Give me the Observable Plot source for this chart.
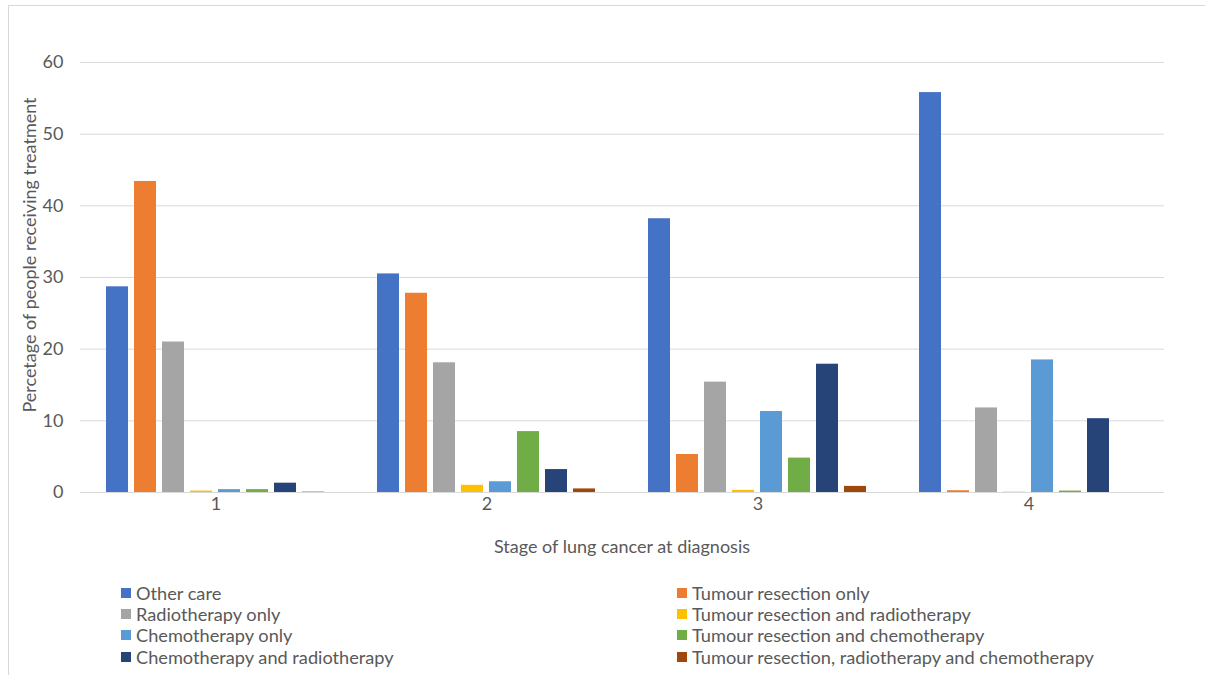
<!DOCTYPE html>
<html>
<head>
<meta charset="utf-8">
<script src="https://cdn.jsdelivr.net/npm/d3@7"></script>
<script src="https://cdn.jsdelivr.net/npm/@observablehq/plot@0.6"></script>
<style>
  html, body { margin: 0; padding: 0; background: #fff; }
  body { width: 1205px; height: 675px; position: relative; overflow: hidden; font-family: "Lato", "Liberation Sans", sans-serif; }
  #frame { position: absolute; left: 8px; top: 5px; width: 1300px; height: 800px; border-left: 1px solid #d9d9d9; border-top: 1px solid #d9d9d9; }
  #chart { position: absolute; left: 0; top: 0; }
  #legend { position: absolute; left: 121px; top: 582px; display: grid; grid-template-columns: 556px auto; row-gap: 0; color: #595959; font-size: 18.2px; }
  #legend .item { display: flex; align-items: center; height: 21.3px; white-space: nowrap; }
  #legend .sw { width: 10px; height: 10px; margin-right: 5px; flex: none; }
</style>
</head>
<body>
<div id="frame"></div>
<div id="chart"></div>
<div id="legend"></div>
<script>
// Stage of lung cancer at diagnosis
const stages = ["1", "2", "3", "4"];

// Treatment groups, in bar order within each stage
const treatments = [
  "Other care",
  "Tumour resection only",
  "Radiotherapy only",
  "Tumour resection and radiotherapy",
  "Chemotherapy only",
  "Tumour resection and chemotherapy",
  "Chemotherapy and radiotherapy",
  "Tumour resection, radiotherapy and chemotherapy"
];

const colors = ["#4472c4", "#ed7d31", "#a5a5a5", "#ffc000", "#5b9bd5", "#70ad47", "#264478", "#9e480e"];

// Percentage of people receiving each treatment, by stage 1–4
const otherCare = [28.7, 30.5, 38.2, 55.8];
const resectionOnly = [43.4, 27.8, 5.3, 0.25];
const radiotherapyOnly = [21.0, 18.1, 15.4, 11.8];
const resectionRadiotherapy = [0.2, 1.0, 0.3, 0.05];
const chemotherapyOnly = [0.4, 1.5, 11.3, 18.5];
const resectionChemotherapy = [0.4, 8.5, 4.8, 0.2];
const chemoRadiotherapy = [1.3, 3.2, 17.9, 10.3];
const resectionRadioChemo = [0.05, 0.5, 0.85, 0.0];

const yTicks = [0, 10, 20, 30, 40, 50, 60];

const series = [otherCare, resectionOnly, radiotherapyOnly, resectionRadiotherapy,
  chemotherapyOnly, resectionChemotherapy, chemoRadiotherapy, resectionRadioChemo];

const rows = [];
stages.forEach((stage, i) => {
  treatments.forEach((t, j) => rows.push({stage, treatment: t, value: series[j][i]}));
});

const W = 1205, H = 570;
const chart = Plot.plot({
  width: W,
  height: H,
  marginLeft: 79,
  marginRight: 40,
  marginTop: 62,
  marginBottom: 78,
  style: {fontFamily: "Lato, 'Liberation Sans', sans-serif", fontSize: "18px", color: "#595959", background: "transparent", overflow: "visible"},
  fx: {domain: stages, padding: 0, label: null, tickSize: 0, tickPadding: 5},
  x: {domain: treatments, paddingInner: 0.213, paddingOuter: 0.853, axis: null},
  y: {domain: [0, 60], ticks: yTicks, tickSize: 0, tickPadding: 17, label: null},
  color: {domain: treatments, range: colors},
  marks: [
    Plot.gridY(yTicks.filter(d => d > 0), {stroke: "#d9d9d9", strokeOpacity: 1}),
    Plot.ruleY([0], {stroke: "#d9d9d9", strokeWidth: 1}),
    Plot.barY(rows, {fx: "stage", x: "treatment", y: "value", fill: "treatment"})
  ]
});

const svg = d3.select(chart);
// Axis titles
svg.append("text")
  .attr("transform", "translate(30,255) rotate(-90)")
  .attr("text-anchor", "middle")
  .attr("dy", "0.35em")
  .attr("fill", "#595959")
  .text("Percetage of people receiving treatment");
svg.append("text")
  .attr("x", (79 + (W - 40)) / 2)
  .attr("y", 547)
  .attr("text-anchor", "middle")
  .attr("dy", "0.35em")
  .attr("fill", "#595959")
  .text("Stage of lung cancer at diagnosis");

document.getElementById("chart").appendChild(chart);

// Legend: two columns, series order runs across rows
const legend = d3.select("#legend");
treatments.forEach((t, j) => {
  const item = legend.append("div").attr("class", "item");
  item.append("span").attr("class", "sw").style("background", colors[j]);
  item.append("span").text(t);
});
</script>
</body>
</html>
